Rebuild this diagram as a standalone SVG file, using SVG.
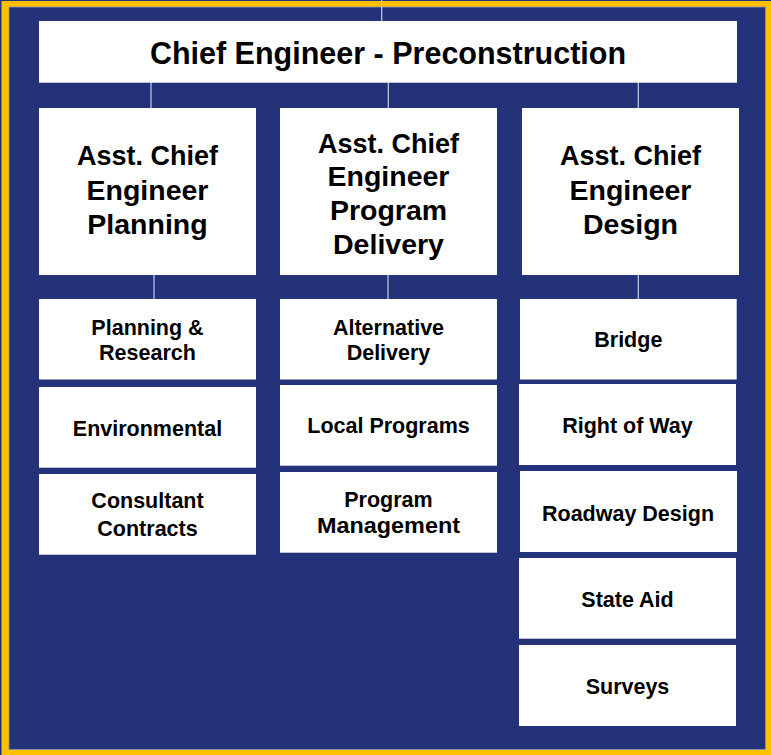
<svg xmlns="http://www.w3.org/2000/svg" width="771" height="755" viewBox="0 0 771 755">
<style>
.box{fill:#ffffff}
.t{font-family:"Liberation Sans",Arial,sans-serif;font-weight:bold;fill:#000000;text-anchor:middle}
.title{font-size:30.5px}
.asst{font-size:28.5px}
.sub{font-size:21.5px}
.conn line{stroke:#c9cde0;stroke-width:1.2}
</style>
<rect x="0" y="0" width="771" height="755" fill="#24327A"/>
<rect x="1.5" y="1" width="769.5" height="754" fill="#FFC000"/>
<rect x="9" y="7" width="756.5" height="742.5" fill="#24327A" stroke="#8d93b2" stroke-width="0.8"/>

<g id="connectors" class="conn">
<line x1="381.7" y1="0" x2="381.7" y2="21"/>
<line x1="151" y1="82" x2="151" y2="108"/>
<line x1="388.3" y1="82" x2="388.3" y2="108"/>
<line x1="638.3" y1="82" x2="638.3" y2="108"/>
<line x1="154" y1="275" x2="154" y2="299"/>
<line x1="388" y1="275" x2="388" y2="299"/>
<line x1="638.3" y1="275" x2="638.3" y2="299"/>
</g>

<g id="chief">
<rect class="box" x="39" y="21" width="698" height="61.7"/>
<text class="t title" x="388" y="63.5">Chief Engineer - Preconstruction</text>
</g>

<g id="asst-planning">
<rect class="box" x="39" y="108" width="217" height="167"/>
<text class="t asst" x="147.5" y="165" textLength="141" lengthAdjust="spacingAndGlyphs">Asst. Chief</text>
<text class="t asst" x="147.5" y="199.5">Engineer</text>
<text class="t asst" x="147.5" y="234">Planning</text>
</g>

<g id="asst-program-delivery">
<rect class="box" x="280" y="108" width="217" height="167"/>
<text class="t asst" x="388.5" y="152.5" textLength="141" lengthAdjust="spacingAndGlyphs">Asst. Chief</text>
<text class="t asst" x="388.5" y="186.3">Engineer</text>
<text class="t asst" x="388.5" y="220">Program</text>
<text class="t asst" x="388.5" y="253.7">Delivery</text>
</g>

<g id="asst-design">
<rect class="box" x="522" y="108" width="217" height="167"/>
<text class="t asst" x="630.5" y="165" textLength="141" lengthAdjust="spacingAndGlyphs">Asst. Chief</text>
<text class="t asst" x="630.5" y="199.5">Engineer</text>
<text class="t asst" x="630.5" y="234">Design</text>
</g>

<g id="planning-research">
<rect class="box" x="39" y="299" width="217" height="80.5"/>
<text class="t sub" x="147.5" y="335">Planning &amp;</text>
<text class="t sub" x="147.5" y="360">Research</text>
</g>
<g id="environmental">
<rect class="box" x="39" y="387" width="217" height="80.7"/>
<text class="t sub" x="147.5" y="435.7">Environmental</text>
</g>
<g id="consultant-contracts">
<rect class="box" x="39" y="474" width="217" height="80.7"/>
<text class="t sub" x="147.5" y="508.3">Consultant</text>
<text class="t sub" x="147.5" y="535.5">Contracts</text>
</g>

<g id="alternative-delivery">
<rect class="box" x="280" y="299" width="217" height="80.5"/>
<text class="t sub" x="388.5" y="335">Alternative</text>
<text class="t sub" x="388.5" y="360">Delivery</text>
</g>
<g id="local-programs">
<rect class="box" x="280" y="385" width="217" height="80.7"/>
<text class="t sub" x="388.5" y="433.3">Local Programs</text>
</g>
<g id="program-management">
<rect class="box" x="280" y="472" width="217" height="80.7"/>
<text class="t sub" x="388.5" y="506.5">Program</text>
<text class="t sub" x="388.5" y="532.7" textLength="143" lengthAdjust="spacingAndGlyphs">Management</text>
</g>

<g id="bridge">
<rect class="box" x="520" y="299" width="216.7" height="80.5"/>
<text class="t sub" x="628.3" y="347.3">Bridge</text>
</g>
<g id="right-of-way">
<rect class="box" x="519" y="384" width="217" height="81"/>
<text class="t sub" x="627.5" y="433.3">Right of Way</text>
</g>
<g id="roadway-design">
<rect class="box" x="520" y="471" width="217" height="81"/>
<text class="t sub" x="628" y="520.5">Roadway Design</text>
</g>
<g id="state-aid">
<rect class="box" x="519" y="558" width="217" height="80.7"/>
<text class="t sub" x="627.5" y="607.3">State Aid</text>
</g>
<g id="surveys">
<rect class="box" x="519" y="645" width="217" height="81"/>
<text class="t sub" x="627.5" y="693.5">Surveys</text>
</g>
</svg>
